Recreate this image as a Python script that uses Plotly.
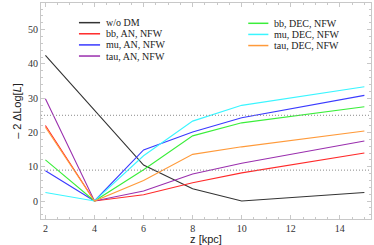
import plotly.graph_objects as go

z = [2, 4, 6, 8, 10, 15]

names = ["w/o DM", "bb, AN, NFW", "mu, AN, NFW", "tau, AN, NFW",
         "bb, DEC, NFW", "mu, DEC, NFW", "tau, DEC, NFW"]

wo_dm = [42.5, 26.5, 10.5, 3.6, 0.0, 2.5]
bb_an = [22.0, 0.0, 1.8, 5.3, 8.2, 14.0]
mu_an = [8.8, 0.0, 14.9, 20.1, 24.3, 30.8]
tau_an = [29.8, 0.0, 2.9, 7.9, 11.0, 17.5]
bb_dec = [12.0, 0.0, 9.1, 19.0, 22.8, 27.5]
mu_dec = [2.5, 0.0, 13.2, 23.3, 27.9, 33.3]
tau_dec = [21.5, 0.0, 6.0, 13.6, 15.8, 20.4]

series = [wo_dm, bb_an, mu_an, tau_an, bb_dec, mu_dec, tau_dec]
colors = ["#333333", "#ff2a2a", "#3a3aff", "#9a2fae",
          "#3aee3a", "#3af5ff", "#ff9a3a"]
legend_column = [0, 0, 0, 0, 1, 1, 1]

thresholds = [9, 25]

x_ticks = [2, 4, 6, 8, 10, 12, 14]
y_ticks = [0, 10, 20, 30, 40, 50]

fig = go.Figure()
for name, vals, col in zip(names, series, colors):
    fig.add_trace(go.Scatter(x=z, y=vals, mode="lines", name=name,
                             line=dict(color=col, width=1.1)))

for t in thresholds:
    fig.add_hline(y=t, line=dict(color="#8a8a8a", width=1, dash="1px,2px"))

serif = "Liberation Serif, Times New Roman, serif"
sans = "Liberation Sans, Arial, sans-serif"

# Legend drawn as line samples + text (two columns, compact rows)
col_line_x = [(0.115, 0.179), (0.628, 0.689)]
col_text_x = [0.191, 0.700]
row_top = 0.909
row_step = 0.0515
row_counter = [0, 0]
for name, col, c in zip(names, colors, legend_column):
    r = row_counter[c]
    row_counter[c] += 1
    yy = row_top - r * row_step - (0.003 if c == 1 else 0)
    x0, x1 = col_line_x[c]
    fig.add_shape(type="line", xref="paper", yref="paper",
                  x0=x0, x1=x1, y0=yy, y1=yy,
                  line=dict(color=col, width=1.5))
    fig.add_annotation(xref="paper", yref="paper", x=col_text_x[c], y=yy,
                       text=name, showarrow=False, xanchor="left",
                       yanchor="middle",
                       font=dict(family=serif, size=10, color="#222222"))

axis_common = dict(
    showgrid=False, zeroline=False, showline=True, linecolor="#c8c8c8",
    linewidth=1, mirror="ticks", ticks="inside", ticklen=4, tickcolor="#c8c8c8",
    tickfont=dict(family=serif, size=10, color="#333333"),
    automargin=False,
)

fig.update_xaxes(range=[1.82, 15.27], tickvals=x_ticks,
                 minor=dict(dtick=0.5, ticks="inside", ticklen=2, tickcolor="#c8c8c8"),
                 title=dict(text="z [kpc]", standoff=0,
                            font=dict(family=sans, size=11, color="#222222")),
                 **axis_common)
fig.update_yaxes(range=[-5.25, 57.75], tickvals=y_ticks,
                 minor=dict(dtick=2, ticks="inside", ticklen=2, tickcolor="#c8c8c8"),
                 title=dict(text="\u2013 2 \u0394Log[<i>L</i>]", standoff=4,
                            font=dict(family=sans, size=11, color="#222222")),
                 **axis_common)

fig.update_layout(
    width=374, height=245,
    margin=dict(l=41, r=3, t=3, b=26, autoexpand=False),
    plot_bgcolor="white", paper_bgcolor="white",
    showlegend=False,
)

fig.write_html("out.html", config={"displayModeBar": False},
               post_script="document.body.style.margin='0';document.body.style.overflow='hidden';")
